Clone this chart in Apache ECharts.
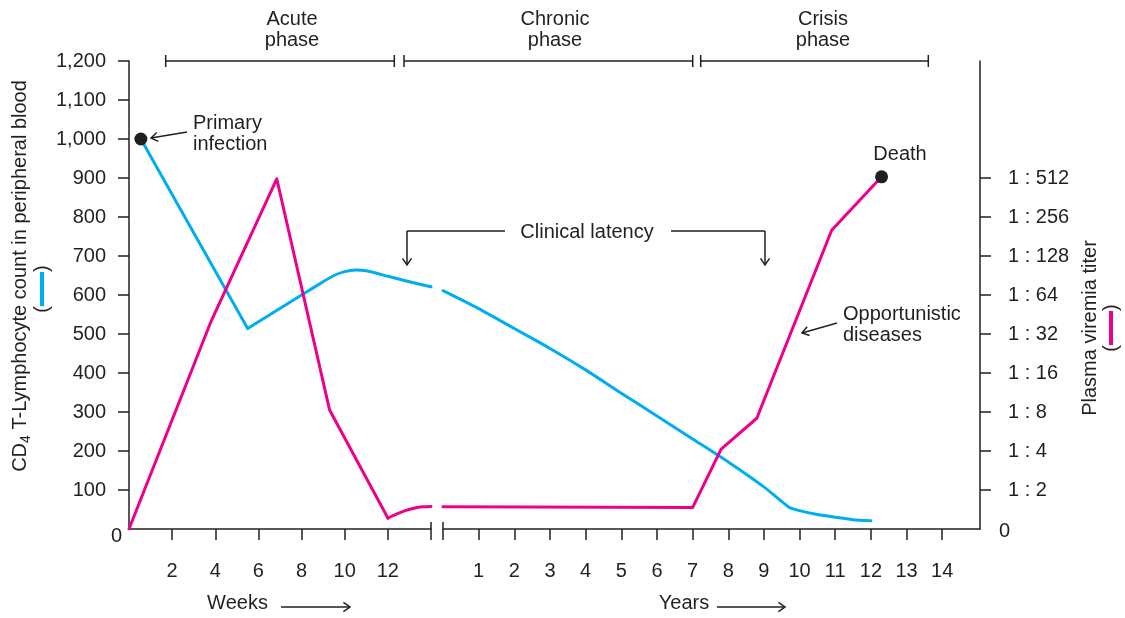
<!DOCTYPE html>
<html>
<head>
<meta charset="utf-8">
<script src="https://cdn.jsdelivr.net/npm/echarts@6/dist/echarts.min.js"></script>
<style>html,body{margin:0;padding:0;background:#fff}#c{width:1125px;height:618px}</style>
</head>
<body>
<div id="c"></div>
<script>
// ---------- data ----------
const weekTicks = [2, 4, 6, 8, 10, 12];
const yearTicks = [1, 2, 3, 4, 5, 6, 7, 8, 9, 10, 11, 12, 13, 14];
const cd4TickValues = [0, 100, 200, 300, 400, 500, 600, 700, 800, 900, 1000, 1100, 1200];
const cd4TickLabels = ['0', '100', '200', '300', '400', '500', '600', '700', '800', '900', '1,000', '1,100', '1,200'];
const titerTickValues = [0, 1, 2, 3, 4, 5, 6, 7, 8, 9];   // log2 of titer
const titerTickLabels = ['0', '1 : 2', '1 : 4', '1 : 8', '1 : 16', '1 : 32', '1 : 64', '1 : 128', '1 : 256', '1 : 512'];

// CD4 count (cells) vs weeks / years
const cd4Weeks = [[0.55, 1000], [5.5, 514], [8, 600], [9, 634], [9.5, 650], [10, 660], [10.5, 664], [11, 662], [12, 648], [13, 634], [14, 621]];
const cd4Years = [[0, 611], [1, 565], [2, 514], [3, 463], [4, 408], [5, 348], [6, 290], [7, 231], [8, 172], [9, 108], [9.7, 56], [10, 47], [10.5, 37], [11, 30], [11.5, 24], [12, 21]];
// Plasma viremia titer (log2 units) vs weeks / years
const viremiaWeeks = [[0, 0], [3.8, 5.32], [6.85, 8.98], [9.3, 3.05], [12, 0.28], [12.4, 0.38], [12.8, 0.47], [13.2, 0.53], [13.6, 0.57], [14, 0.58]];
const viremiaYears = [[0, 0.57], [7, 0.55], [7.8, 2.05], [8.8, 2.84], [10.9, 7.66], [12.3, 9.03]];
// events
const primaryInfection = [[0.55, 1000]];
const death = [[12.3, 9.03]];

// ---------- style ----------
const AX = '#231f20';
const FONT = "'Liberation Sans', Arial, Helvetica, sans-serif";
const BLUE = '#00aeef';
const PINK = '#ec008c';

function axisCommon() {
  return {
    axisLine: { show: true, onZero: false, lineStyle: { color: AX, width: 1.5 } },
    splitLine: { show: false },
  };
}

function head(x, y, ang, len, spread) {
  len = len || 8; spread = spread || 0.6;
  const a1 = ang + Math.PI - spread, a2 = ang + Math.PI + spread;
  return { type: 'polyline', silent: true, z: 100,
    shape: { points: [[x + len * Math.cos(a1), y + len * Math.sin(a1)], [x, y], [x + len * Math.cos(a2), y + len * Math.sin(a2)]] },
    style: { stroke: AX, lineWidth: 1.5, fill: null } };
}
function seg(x1, y1, x2, y2) {
  return { type: 'line', silent: true, z: 100, shape: { x1, y1, x2, y2 }, style: { stroke: AX, lineWidth: 1.5 } };
}
function arrow(x1, y1, x2, y2) {
  return [seg(x1, y1, x2, y2), head(x2, y2, Math.atan2(y2 - y1, x2 - x1))];
}
function txt(x, y, text, align) {
  return { type: 'text', silent: true, z: 100, x, y,
    style: { text, fontFamily: FONT, fontSize: 20, fill: AX, align: align || 'center', verticalAlign: 'middle', lineHeight: 21 } };
}
function bracket(x1, x2, y) {
  return [seg(x1, y, x2, y), seg(x1, y - 6, x1, y + 6), seg(x2, y - 6, x2, y + 6)];
}

const graphics = [].concat(
  // phase brackets
  bracket(165.7, 394.3, 61), bracket(404, 692.7, 61), bracket(700.7, 928.3, 61),
  [txt(292, 30, 'Acute\nphase'), txt(555, 30, 'Chronic\nphase'), txt(823, 30, 'Crisis\nphase')],
  // axis break marks
  [seg(431, 522, 431, 540), seg(443, 522, 443, 540)],
  // clinical latency
  [seg(407, 231, 505, 231), seg(671, 231, 765, 231)],
  arrow(407, 231, 407, 265), arrow(765, 231, 765, 265),
  [txt(587, 232, 'Clinical latency')],
  // primary infection
  arrow(187, 132, 151, 138),
  [txt(193, 134, 'Primary\ninfection', 'left')],
  // death
  [txt(900, 154, 'Death')],
  // opportunistic diseases
  arrow(837, 323, 802, 333),
  [txt(843, 325, 'Opportunistic\ndiseases', 'left')],
  // x-axis title arrows
  arrow(281, 607, 350, 607), arrow(717, 607, 785, 607),
  // legend keys beside axis titles
  [
    { type: 'text', silent: true, z: 100, x: 42, y: 289, rotation: Math.PI / 2,
      style: { text: '{p|(}{b|}{p|)}', align: 'center', verticalAlign: 'middle',
        rich: { p: { fontFamily: FONT, fontSize: 20, fill: AX }, b: { width: 34, height: 4, backgroundColor: BLUE } } } },
    { type: 'text', silent: true, z: 100, x: 1111, y: 328, rotation: Math.PI / 2,
      style: { text: '{p|(}{b|}{p|)}', align: 'center', verticalAlign: 'middle',
        rich: { p: { fontFamily: FONT, fontSize: 20, fill: AX }, b: { width: 34, height: 4, backgroundColor: PINK } } } }
  ]
);

const labelBase = { fontFamily: FONT, fontSize: 20, color: AX };

function lineSeries(name, xi, yi, data, color, smooth, z) {
  return { name, type: 'line', xAxisIndex: xi, yAxisIndex: yi, data,
    showSymbol: false, smooth: smooth,
    lineStyle: { color, width: 3, cap: 'round', join: 'round' }, itemStyle: { color }, z };
}

const option = {
  animation: false,
  backgroundColor: '#ffffff',
  textStyle: { fontFamily: FONT, color: AX },
  grid: [
    { left: 129, top: 61, width: 302, height: 470 },
    { left: 443, top: 61, width: 537, height: 470 }
  ],
  xAxis: [
    Object.assign(axisCommon(), {
      type: 'value', gridIndex: 0, min: 0, max: 14, interval: 2,
      axisTick: { show: true, length: 11, customValues: weekTicks, lineStyle: { color: AX, width: 1.5 } },
      axisLabel: Object.assign({ customValues: weekTicks, margin: 32 }, labelBase),
      name: '{t|Weeks}{g|}', nameLocation: 'middle', nameGap: 64,
      nameTextStyle: { rich: { t: labelBase, g: { width: 85 } } }
    }),
    Object.assign(axisCommon(), {
      type: 'value', gridIndex: 1, min: 0, max: 15.06, interval: 1,
      axisTick: { show: true, length: 11, customValues: yearTicks, lineStyle: { color: AX, width: 1.5 } },
      axisLabel: Object.assign({ customValues: yearTicks, margin: 32 }, labelBase),
      name: '{t|Years}{g|}', nameLocation: 'middle', nameGap: 64,
      nameTextStyle: { rich: { t: labelBase, g: { width: 55 } } }
    })
  ],
  yAxis: [
    Object.assign(axisCommon(), {
      type: 'value', gridIndex: 0, position: 'left', min: 0, max: 1200, interval: 100,
      axisTick: { show: true, length: 11, customValues: cd4TickValues.slice(1), lineStyle: { color: AX, width: 1.5 } },
      axisLabel: {
        customValues: cd4TickValues, margin: 7,
        formatter: v => {
          const s = cd4TickLabels[cd4TickValues.indexOf(v)];
          return v === 0 ? '{z|' + s + '}' : '{n|' + s + '}';
        },
        rich: {
          n: Object.assign({ padding: [0, 16, 0, 0] }, labelBase),
          z: Object.assign({ padding: [14, 0, 0, 0] }, labelBase)
        }
      },
      name: '{a|CD}{s|4}{a| T-Lymphocyte count in peripheral blood}',
      nameLocation: 'middle', nameRotate: 90, nameGap: 96,
      nameTextStyle: {
        padding: [0, 0, 0, 38],
        rich: { a: labelBase, s: Object.assign({}, labelBase, { fontSize: 14, padding: [12, 0, 0, 0] }) }
      }
    }),
    { type: 'value', gridIndex: 0, position: 'right', min: 0, max: 12, show: false },
    { type: 'value', gridIndex: 1, position: 'left', min: 0, max: 1200, show: false },
    Object.assign(axisCommon(), {
      type: 'value', gridIndex: 1, position: 'right', min: 0, max: 12, interval: 1,
      axisTick: { show: true, length: 11, customValues: titerTickValues.slice(1), lineStyle: { color: AX, width: 1.5 } },
      axisLabel: {
        customValues: titerTickValues, margin: 19,
        formatter: v => {
          const s = titerTickLabels[titerTickValues.indexOf(v)];
          return v === 0 ? '{z|' + s + '}' : '{n|' + s + '}';
        },
        rich: {
          n: Object.assign({ padding: [0, 0, 0, 9] }, labelBase),
          z: Object.assign({ padding: [4, 0, 0, 0] }, labelBase)
        }
      },
      name: 'Plasma viremia titer',
      nameLocation: 'middle', nameRotate: 90, nameGap: 100,
      nameTextStyle: Object.assign({ padding: [0, 66, 0, 0] }, labelBase)
    })
  ],
  series: [
    lineSeries('CD4 (weeks, decline)', 0, 0, cd4Weeks.slice(0, 2), BLUE, false, 3),
    lineSeries('CD4 (weeks, rebound)', 0, 0, cd4Weeks.slice(1), BLUE, 0.2, 3),
    lineSeries('CD4 (years)', 1, 2, cd4Years, BLUE, 0.2, 3),
    lineSeries('Viremia (weeks)', 0, 1, viremiaWeeks.slice(0, 5), PINK, false, 4),
    lineSeries('Viremia (weeks, plateau)', 0, 1, viremiaWeeks.slice(4), PINK, 0.3, 4),
    lineSeries('Viremia (years)', 1, 3, viremiaYears, PINK, false, 4),
    { name: 'Primary infection', type: 'scatter', xAxisIndex: 0, yAxisIndex: 0, data: primaryInfection,
      symbolSize: 13, itemStyle: { color: AX, opacity: 1 }, z: 6 },
    { name: 'Death', type: 'scatter', xAxisIndex: 1, yAxisIndex: 3, data: death,
      symbolSize: 13, itemStyle: { color: AX, opacity: 1 }, z: 6 }
  ],
  graphic: { elements: graphics }
};

const chart = echarts.init(document.getElementById('c'), null, { renderer: 'canvas' });
chart.setOption(option);
</script>
</body>
</html>
